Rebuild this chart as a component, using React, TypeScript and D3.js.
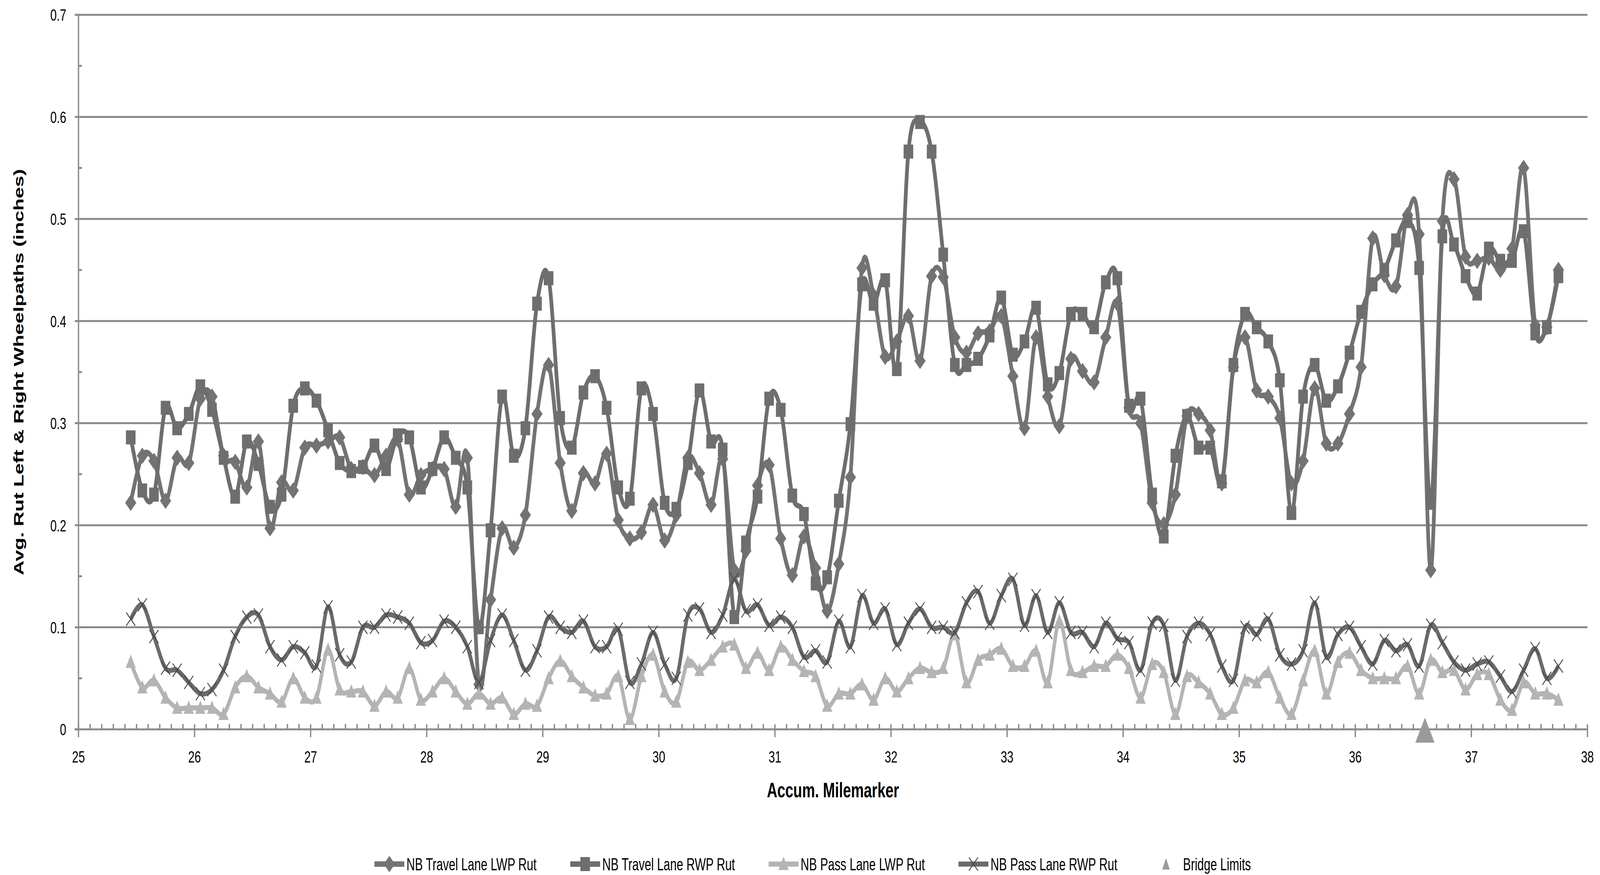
import * as d3 from 'd3';
import { useEffect, useRef } from 'react';

// accumulated milemarker of each rut reading (shared by all four series)
const milepost = [
  25.45, 25.55, 25.65, 25.75, 25.85, 25.95,
  26.05, 26.15, 26.25, 26.35, 26.45, 26.55, 26.65, 26.75, 26.85, 26.95,
  27.05, 27.15, 27.25, 27.35, 27.45, 27.55, 27.65, 27.75, 27.85, 27.95,
  28.05, 28.15, 28.25, 28.35, 28.45, 28.55, 28.65, 28.75, 28.85, 28.95,
  29.05, 29.15, 29.25, 29.35, 29.45, 29.55, 29.65, 29.75, 29.85, 29.95,
  30.05, 30.15, 30.25, 30.35, 30.45, 30.55, 30.65, 30.75, 30.85, 30.95,
  31.05, 31.15, 31.25, 31.35, 31.45, 31.55, 31.65, 31.75, 31.85, 31.95,
  32.05, 32.15, 32.25, 32.35, 32.45, 32.55, 32.65, 32.75, 32.85, 32.95,
  33.05, 33.15, 33.25, 33.35, 33.45, 33.55, 33.65, 33.75, 33.85, 33.95,
  34.05, 34.15, 34.25, 34.35, 34.45, 34.55, 34.65, 34.75, 34.85, 34.95,
  35.05, 35.15, 35.25, 35.35, 35.45, 35.55, 35.65, 35.75, 35.85, 35.95,
  36.05, 36.15, 36.25, 36.35, 36.45, 36.55, 36.65, 36.75, 36.85, 36.95,
  37.05, 37.15, 37.25, 37.35, 37.45, 37.55, 37.65, 37.75,
];

const travelLwp = [
  0.222, 0.268, 0.263, 0.224, 0.266, 0.261,
  0.324, 0.326, 0.268, 0.262, 0.237, 0.282, 0.197, 0.242, 0.234, 0.276,
  0.278, 0.282, 0.286, 0.255, 0.257, 0.249, 0.268, 0.284, 0.230, 0.249,
  0.255, 0.255, 0.218, 0.266, 0.044, 0.127, 0.197, 0.178, 0.210, 0.309,
  0.357, 0.261, 0.214, 0.251, 0.241, 0.270, 0.205, 0.187, 0.193, 0.220,
  0.185, 0.210, 0.266, 0.251, 0.220, 0.265, 0.156, 0.175, 0.239, 0.259,
  0.187, 0.151, 0.189, 0.158, 0.116, 0.162, 0.247, 0.452, 0.425, 0.365,
  0.380, 0.405, 0.361, 0.444, 0.443, 0.384, 0.369, 0.388, 0.390, 0.405,
  0.346, 0.295, 0.384, 0.326, 0.297, 0.363, 0.351, 0.340, 0.384, 0.417,
  0.315, 0.300, 0.222, 0.201, 0.230, 0.307, 0.309, 0.293, 0.241, 0.355,
  0.384, 0.332, 0.326, 0.305, 0.241, 0.263, 0.334, 0.280, 0.280, 0.309,
  0.355, 0.481, 0.445, 0.434, 0.504, 0.485, 0.156, 0.498, 0.539, 0.463,
  0.459, 0.462, 0.450, 0.471, 0.550, 0.396, 0.394, 0.450,
];

const travelRwp = [
  0.286, 0.234, 0.230, 0.315, 0.295, 0.309,
  0.336, 0.313, 0.266, 0.228, 0.282, 0.260, 0.218, 0.230, 0.317, 0.334,
  0.322, 0.293, 0.261, 0.253, 0.257, 0.278, 0.255, 0.288, 0.286, 0.237,
  0.255, 0.286, 0.266, 0.237, 0.100, 0.195, 0.326, 0.268, 0.295, 0.417,
  0.442, 0.305, 0.276, 0.330, 0.346, 0.315, 0.237, 0.226, 0.334, 0.309,
  0.222, 0.216, 0.261, 0.332, 0.282, 0.274, 0.110, 0.183, 0.228, 0.324,
  0.313, 0.229, 0.211, 0.143, 0.149, 0.224, 0.299, 0.436, 0.417, 0.440,
  0.353, 0.566, 0.595, 0.566, 0.465, 0.357, 0.357, 0.363, 0.386, 0.423,
  0.367, 0.380, 0.413, 0.338, 0.349, 0.407, 0.407, 0.394, 0.438, 0.442,
  0.317, 0.324, 0.230, 0.189, 0.268, 0.307, 0.276, 0.276, 0.243, 0.357,
  0.407, 0.394, 0.380, 0.342, 0.212, 0.326, 0.357, 0.322, 0.336, 0.369,
  0.409, 0.436, 0.450, 0.479, 0.498, 0.452, 0.222, 0.483, 0.475, 0.444,
  0.427, 0.471, 0.459, 0.459, 0.488, 0.388, 0.394, 0.444,
];

const passLwp = [
  0.066, 0.041, 0.048, 0.031, 0.021, 0.021,
  0.021, 0.021, 0.015, 0.041, 0.052, 0.041, 0.035, 0.027, 0.050, 0.031,
  0.031, 0.078, 0.039, 0.037, 0.037, 0.023, 0.037, 0.031, 0.060, 0.029,
  0.037, 0.050, 0.037, 0.025, 0.035, 0.025, 0.031, 0.015, 0.025, 0.023,
  0.050, 0.067, 0.052, 0.041, 0.033, 0.035, 0.052, 0.010, 0.052, 0.073,
  0.037, 0.027, 0.066, 0.058, 0.068, 0.081, 0.083, 0.060, 0.075, 0.058,
  0.081, 0.068, 0.057, 0.052, 0.023, 0.035, 0.035, 0.044, 0.029, 0.050,
  0.037, 0.050, 0.060, 0.056, 0.060, 0.093, 0.046, 0.068, 0.073, 0.079,
  0.062, 0.062, 0.077, 0.046, 0.106, 0.058, 0.056, 0.062, 0.062, 0.073,
  0.060, 0.031, 0.064, 0.056, 0.015, 0.052, 0.046, 0.035, 0.015, 0.021,
  0.048, 0.046, 0.056, 0.031, 0.015, 0.048, 0.077, 0.035, 0.066, 0.075,
  0.058, 0.050, 0.050, 0.050, 0.062, 0.035, 0.068, 0.056, 0.058, 0.039,
  0.054, 0.054, 0.029, 0.019, 0.046, 0.035, 0.035, 0.029,
];

const passRwp = [
  0.108, 0.122, 0.091, 0.060, 0.058, 0.046,
  0.035, 0.039, 0.058, 0.091, 0.110, 0.112, 0.081, 0.068, 0.081, 0.075,
  0.062, 0.120, 0.073, 0.066, 0.100, 0.100, 0.112, 0.110, 0.104, 0.085,
  0.087, 0.106, 0.100, 0.081, 0.046, 0.087, 0.112, 0.087, 0.058, 0.077,
  0.110, 0.100, 0.095, 0.106, 0.081, 0.081, 0.098, 0.046, 0.064, 0.095,
  0.064, 0.050, 0.112, 0.118, 0.095, 0.112, 0.147, 0.116, 0.122, 0.102,
  0.110, 0.100, 0.071, 0.077, 0.066, 0.106, 0.081, 0.131, 0.104, 0.118,
  0.083, 0.104, 0.118, 0.100, 0.100, 0.095, 0.124, 0.135, 0.104, 0.131,
  0.147, 0.102, 0.131, 0.095, 0.124, 0.095, 0.095, 0.081, 0.104, 0.089,
  0.085, 0.058, 0.104, 0.102, 0.048, 0.091, 0.104, 0.093, 0.062, 0.048,
  0.100, 0.093, 0.108, 0.073, 0.064, 0.077, 0.124, 0.071, 0.093, 0.100,
  0.081, 0.064, 0.087, 0.077, 0.083, 0.062, 0.102, 0.085, 0.066, 0.058,
  0.064, 0.066, 0.052, 0.037, 0.058, 0.079, 0.050, 0.062,
];

const bridgeMile = [36.6];
const bridgeValue = [0];

const xTicks = [25, 26, 27, 28, 29, 30, 31, 32, 33, 34, 35, 36, 37, 38];
const yTicks = [0, 0.1, 0.2, 0.3, 0.4, 0.5, 0.6, 0.7];
const yTickLabels = ['0', '0.1', '0.2', '0.3', '0.4', '0.5', '0.6', '0.7'];

const seriesNames = [
  'NB Travel Lane LWP Rut',
  'NB Travel Lane RWP Rut',
  'NB Pass Lane LWP Rut',
  'NB Pass Lane RWP Rut',
  'Bridge Limits',
];

const W = 5993;
const H = 2241;
const FONT = '"Liberation Sans", Arial, sans-serif';

type Marker = 'diamond' | 'square' | 'triangle' | 'x';

const markerPath = (m: Marker, s: number) => {
  const h = s / 2;
  if (m === 'diamond') return `M0,${-h}L${h},0L0,${h}L${-h},0Z`;
  if (m === 'square') return `M${-h},${-h}H${h}V${h}H${-h}Z`;
  if (m === 'triangle') return `M0,${-h}L${h},${h * 0.8}L${-h},${h * 0.8}Z`;
  return `M${-h},${-h}L${h},${h}M${h},${-h}L${-h},${h}`;
};

export default function App() {
  const svgRef = useRef<SVGSVGElement>(null);

  useEffect(() => {
    if (!svgRef.current) return;
    const svg = d3.select(svgRef.current);
    svg.selectAll('*').remove();

    const left = 294, right = 5946, top = 38, bottom = 1868;
    const x = d3.scaleLinear().domain([25, 38]).range([left, right]);
    const y = d3.scaleLinear().domain([0, 0.7]).range([bottom, top]);
    const axisColor = '#8a8a8a';

    svg.append('rect').attr('width', W).attr('height', H).attr('fill', '#fff');

    // gridlines
    svg.append('g')
      .selectAll('line')
      .data(yTicks.filter((t) => t > 0))
      .enter()
      .append('line')
      .attr('x1', left)
      .attr('x2', right)
      .attr('y1', (d) => y(d))
      .attr('y2', (d) => y(d))
      .attr('stroke', axisColor)
      .attr('stroke-width', 5);

    // axes
    const ax = svg.append('g').attr('stroke', axisColor).attr('stroke-width', 5);
    ax.append('line').attr('x1', left).attr('x2', left).attr('y1', top - 2).attr('y2', bottom);
    ax.append('line').attr('x1', left - 14).attr('x2', right).attr('y1', bottom).attr('y2', bottom);

    // y ticks: major outside, minor inside
    yTicks.forEach((t) => {
      ax.append('line').attr('x1', left - 14).attr('x2', left).attr('y1', y(t)).attr('y2', y(t));
    });
    d3.range(0.05, 0.7, 0.1).forEach((t) => {
      ax.append('line').attr('x1', left).attr('x2', left + 13).attr('y1', y(t)).attr('y2', y(t));
    });

    // x ticks: major cross, minor inside
    xTicks.forEach((t) => {
      ax.append('line').attr('x1', x(t)).attr('x2', x(t)).attr('y1', bottom - 13).attr('y2', bottom + 20);
    });
    d3.range(0, 130).forEach((i) => {
      if (i % 10 === 0) return;
      const t = 25 + i / 10;
      ax.append('line').attr('x1', x(t)).attr('x2', x(t)).attr('y1', bottom - 14).attr('y2', bottom);
    });

    // tick labels
    svg.append('g')
      .selectAll('text')
      .data(yTicks)
      .enter()
      .append('text')
      .attr('x', 248)
      .attr('y', (d) => y(d))
      .attr('dy', '0.36em')
      .attr('text-anchor', 'end')
      .attr('font-family', FONT)
      .attr('font-size', 43)
      .text((_, i) => yTickLabels[i]);

    svg.append('g')
      .selectAll('text')
      .data(xTicks)
      .enter()
      .append('text')
      .attr('x', (d) => x(d))
      .attr('y', 1953)
      .attr('text-anchor', 'middle')
      .attr('font-family', FONT)
      .attr('font-size', 43)
      .text((d) => String(d));

    // axis titles
    svg.append('text')
      .attr('x', (left + right) / 2)
      .attr('y', 2042)
      .attr('text-anchor', 'middle')
      .attr('font-family', FONT)
      .attr('font-weight', 'bold')
      .attr('font-size', 54)
      .text('Accum. Milemarker');

    svg.append('text')
      .attr('transform', `translate(88,${(top + bottom) / 2}) rotate(-90)`)
      .attr('text-anchor', 'middle')
      .attr('font-family', FONT)
      .attr('font-weight', 'bold')
      .attr('font-size', 52)
      .text('Avg. Rut Left & Right Wheelpaths (inches)');

    const series: { values: number[]; color: string; width: number; marker: Marker; mColor: string; mSize: number }[] = [
      { values: travelLwp, color: '#737373', width: 14, marker: 'diamond', mColor: '#737373', mSize: 42 },
      { values: travelRwp, color: '#6e6e6e', width: 14, marker: 'square', mColor: '#6e6e6e', mSize: 36 },
      { values: passLwp, color: '#b4b4b4', width: 13, marker: 'triangle', mColor: '#b4b4b4', mSize: 38 },
      { values: passRwp, color: '#6a6a6a', width: 13, marker: 'x', mColor: '#4a4a4a', mSize: 34 },
    ];

    const line = d3.line<number>()
      .x((_, i) => x(milepost[i]))
      .y((d) => y(d))
      .curve(d3.curveCatmullRom.alpha(0));

    const plot = svg.append('g');
    series.forEach((s) => {
      plot.append('path')
        .attr('d', line(s.values))
        .attr('fill', 'none')
        .attr('stroke', s.color)
        .attr('stroke-width', s.width)
        .attr('stroke-linejoin', 'round');
      plot.append('g')
        .selectAll('path')
        .data(s.values)
        .enter()
        .append('path')
        .attr('transform', (d, i) => `translate(${x(milepost[i])},${y(d)})`)
        .attr('d', markerPath(s.marker, s.mSize))
        .attr('fill', s.marker === 'x' ? 'none' : s.mColor)
        .attr('stroke', s.marker === 'x' ? s.mColor : 'none')
        .attr('stroke-width', 3);
    });

    // bridge limit marker
    plot.append('g')
      .selectAll('path')
      .data(bridgeValue)
      .enter()
      .append('path')
      .attr('transform', (d, i) => `translate(${x(bridgeMile[i])},${y(d) + 4})`)
      .attr('d', 'M0,-34L36,30L-36,30Z')
      .attr('fill', '#9a9a9a');

    // legend
    const legend = svg.append('g');
    const lineLen = 112;
    const ly = 2213;
    const items = seriesNames.map((name, i) => {
      const g = legend.append('g');
      const t = g.append('text')
        .attr('x', lineLen + 8)
        .attr('y', ly + 16)
        .attr('font-family', FONT)
        .attr('font-size', 44)
        .text(name);
      const w = (t.node() as SVGTextElement).getComputedTextLength();
      if (i < series.length) {
        const s = series[i];
        g.append('line')
          .attr('x1', 0).attr('x2', lineLen)
          .attr('y1', ly).attr('y2', ly)
          .attr('stroke', s.color).attr('stroke-width', s.width);
        g.append('path')
          .attr('transform', `translate(${lineLen / 2},${ly})`)
          .attr('d', markerPath(s.marker, s.mSize))
          .attr('fill', s.marker === 'x' ? 'none' : s.mColor)
          .attr('stroke', s.marker === 'x' ? s.mColor : 'none')
          .attr('stroke-width', 3);
      } else {
        g.append('path')
          .attr('transform', `translate(${lineLen / 2},${ly})`)
          .attr('d', 'M0,-15L14,14L-14,14Z')
          .attr('fill', '#9a9a9a');
      }
      return { g, w: lineLen + 8 + w };
    });
    const gap = 126;
    const total = d3.sum(items, (d) => d.w) + gap * (items.length - 1);
    let cx = 3044 - total / 2;
    items.forEach((it) => {
      it.g.attr('transform', `translate(${cx},0)`);
      cx += it.w + gap;
    });
  }, []);

  // the drawing is made in 5993x2241 units and stretched to fill the window
  return (
    <svg
      ref={svgRef}
      viewBox={`0 0 ${W} ${H}`}
      preserveAspectRatio="none"
      style={{ position: 'absolute', left: 0, top: 0, width: '100vw', height: '100vh', background: '#fff' }}
    />
  );
}
